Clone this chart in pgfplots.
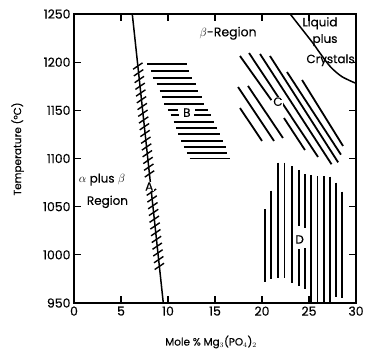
\documentclass[border=0pt]{standalone}
\usepackage{pgfplots}
\pgfplotsset{compat=1.18}
\usepackage{fontspec}
\setmainfont{Poppins}[FakeBold=0.35]
\usetikzlibrary{calc}
\begin{document}
\begin{tikzpicture}
\begin{axis}[
 scale only axis, width=282bp, height=289bp,
 xmin=0, xmax=30, ymin=950, ymax=1250,
 xtick={0,5,...,30}, ytick={950,1000,...,1250},
 tick align=inside, major tick length=7bp,
 axis line style={line width=1.2bp},
 every tick/.style={line width=1.2bp, black},
 ticklabel style={font=\fontsize{12.5}{12}\selectfont},
 /pgf/number format/assume math mode=true,
 /pgf/number format/1000 sep={},
 xlabel={Mole \% Mg$_3$(PO$_4$)$_2$}, ylabel={Temperature (°C)},
 label style={font=\fontsize{10.5}{12}\selectfont},
 xlabel style={at={(axis description cs:0.486,-0.135)}, anchor=center},
 ylabel style={at={(axis description cs:-0.2,0.533)}, anchor=center},
 unbounded coords=jump,
]
% boundary A
\addplot[black, line width=1.5bp] coordinates {(6.2,1250) (9.5,950)};
% hatches on A
\addplot[black, line width=1.4bp] coordinates {
(6.29,1192.7)(7.29,1199.3)(0,nan)
(6.37,1185.7)(7.37,1192.3)(0,nan)
(6.45,1178.7)(7.45,1185.3)(0,nan)
(6.53,1171.7)(7.53,1178.3)(0,nan)
(6.60,1164.7)(7.60,1171.3)(0,nan)
(6.68,1157.7)(7.68,1164.3)(0,nan)
(6.76,1150.7)(7.76,1157.3)(0,nan)
(6.83,1143.7)(7.83,1150.3)(0,nan)
(6.91,1136.7)(7.91,1143.3)(0,nan)
(6.99,1129.7)(7.99,1136.3)(0,nan)
(7.06,1122.7)(8.06,1129.3)(0,nan)
(7.14,1115.7)(8.14,1122.3)(0,nan)
(7.22,1108.7)(8.22,1115.3)(0,nan)
(7.30,1101.7)(8.30,1108.3)(0,nan)
(7.37,1094.7)(8.37,1101.3)(0,nan)
(7.45,1087.7)(8.45,1094.3)(0,nan)
(7.53,1080.7)(8.53,1087.3)(0,nan)
(7.74,1061.7)(8.74,1068.3)(0,nan)
(7.81,1054.7)(8.81,1061.3)(0,nan)
(7.89,1047.7)(8.89,1054.3)(0,nan)
(7.97,1040.7)(8.97,1047.3)(0,nan)
(8.04,1033.7)(9.04,1040.3)(0,nan)
(8.12,1026.7)(9.12,1033.3)(0,nan)
(8.20,1019.7)(9.20,1026.3)(0,nan)
(8.27,1012.7)(9.27,1019.3)(0,nan)
(8.35,1005.7)(9.35,1012.3)(0,nan)
(8.43,998.7)(9.43,1005.3)(0,nan)
(8.51,991.7)(9.51,998.3)(0,nan)
(8.58,984.7)(9.58,991.3)
};
% region B
\addplot[black, line width=1.9bp] coordinates {
(7.8,1198)(12.0,1198)(0,nan)
(8.2,1191)(12.2,1191)(0,nan)
(8.4,1184)(12.6,1184)(0,nan)
(8.8,1177)(13.0,1177)(0,nan)
(9.1,1170.5)(13.2,1170.5)(0,nan)
(9.4,1164)(13.6,1164)(0,nan)
(9.6,1157)(13.8,1157)(0,nan)
(10.0,1150.5)(11.1,1150.5)(0,nan)
(12.9,1150.5)(14.3,1150.5)(0,nan)
(10.3,1145)(11.2,1145)(0,nan)
(12.8,1145)(14.6,1145)(0,nan)
(10.6,1138)(14.9,1138)(0,nan)
(10.9,1131.5)(15.2,1131.5)(0,nan)
(11.1,1125)(15.5,1125)(0,nan)
(11.4,1118.6)(15.9,1118.6)(0,nan)
(11.7,1112)(16.2,1112)(0,nan)
(12.0,1106)(16.3,1106)(0,nan)
(12.3,1100)(16.6,1100)
};
% region C
\addplot[black, line width=1.8bp] coordinates {
(17.66,1206.4)(21.0,1160.6)(0,nan)
(22.34,1142.0)(24.57,1108.8)(0,nan)
(18.62,1209.5)(25.96,1101.6)(0,nan)
(19.79,1208.5)(27.4,1094.0)(0,nan)
(20.85,1206.4)(28.1,1096.0)(0,nan)
(22.66,1189.8)(28.40,1104.0)(0,nan)
(24.26,1181.5)(28.62,1113.0)(0,nan)
(17.45,1174.2)(21.28,1118.2)(0,nan)
(18.51,1175.3)(22.23,1121.3)(0,nan)
(17.66,1152.4)(20.0,1118.2)
};
% region D
\addplot[black, line width=1.8bp] coordinates {
(20.3,1047.3)(20.3,972.1)(0,nan)
(21.0,1066.6)(21.0,974.6)(0,nan)
(21.7,1095.6)(21.7,975.6)(0,nan)
(22.4,1095.6)(22.4,975.6)(0,nan)
(23.2,1092.2)(23.2,971.1)(0,nan)
(23.9,1088.1)(23.9,1030.0)(0,nan)
(23.9,1005.8)(23.9,967.7)(0,nan)
(24.6,1083.9)(24.6,1027.6)(0,nan)
(24.6,1006.8)(24.6,964.3)(0,nan)
(25.2,1082.9)(25.2,951)(0,nan)
(25.9,1081.8)(25.9,951.4)(0,nan)
(26.6,1081.8)(26.6,951.4)(0,nan)
(27.2,1081.1)(27.2,951)(0,nan)
(27.9,1074.9)(27.9,956)(0,nan)
(28.5,1065.6)(28.5,955)
};
% liquidus curve
\addplot[black, line width=1.5bp, smooth] coordinates {
(23.0,1250)(24.2,1235)(25.4,1220)(26.2,1209)(27.3,1195)(28.5,1185)(30,1178)};
% labels
\node[font=\fontsize{12.5}{12}\selectfont] at (axis cs:16.4,1230) {$\beta$-Region};
\node[font=\fontsize{12}{12}\selectfont] at (axis cs:2.98,1078) {$\alpha$ plus $\beta$};
\node[font=\fontsize{12}{12}\selectfont] at (axis cs:3.56,1055) {Region};
\node[font=\fontsize{12}{12}\selectfont, fill=white, inner sep=0.3pt] at (axis cs:8.0,1071) {A};
\node[font=\fontsize{12}{12}\selectfont] at (axis cs:12.0,1147.6) {B};
\node[font=\fontsize{12}{12}\selectfont, fill=white, inner sep=0.3pt] at (axis cs:21.7,1159) {C};
\node[font=\fontsize{12}{12}\selectfont] at (axis cs:24.0,1016) {D};
\node[font=\fontsize{12}{12}\selectfont] at (axis cs:26.17,1240.3) {Liquid};
\node[font=\fontsize{12}{12}\selectfont] at (axis cs:26.7,1223) {plus};
\node[font=\fontsize{12}{12}\selectfont] at (axis cs:27.3,1202) {Crystals};
\end{axis}
\pgfresetboundingbox
\path ($(current axis.south west)+(-74bp,-46bp)$) rectangle ($(current axis.north east)+(9bp,14bp)$);
\end{tikzpicture}
\end{document}
